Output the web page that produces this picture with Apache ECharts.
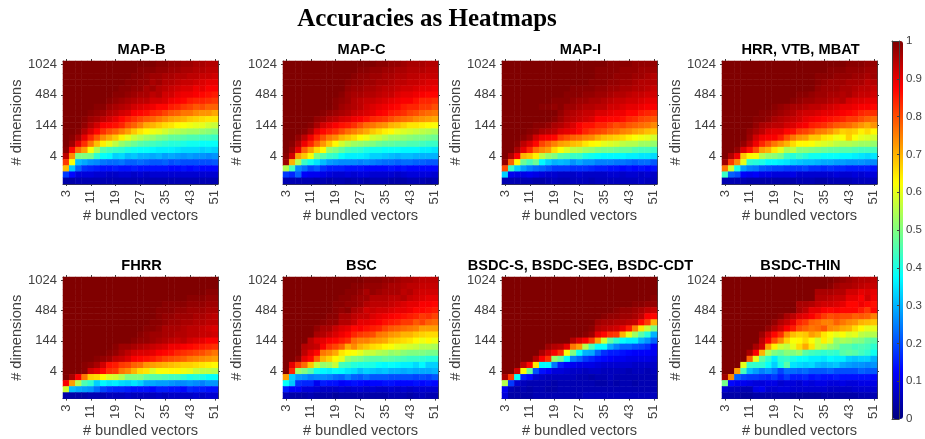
<!DOCTYPE html>
<html><head><meta charset="utf-8"><style>html,body{margin:0;padding:0;background:#fff}#c{width:925px;height:439px}</style>
<script src="https://cdn.jsdelivr.net/npm/echarts@6/dist/echarts.min.js"></script></head><body><div id="c"></div><script>
const xLabels=[3,5,7,9,11,13,15,17,19,21,23,25,27,29,31,33,35,37,39,41,43,45,47,49,51];
const yLabels=['','','','','4','','','','','144','','','','','484','','','','','1024'];
const titles=['MAP-B','MAP-C','MAP-I','HRR, VTB, MBAT','FHRR','BSC','BSDC-S, BSDC-SEG, BSDC-CDT','BSDC-THIN'];
// accuracy in percent, rows listed from the top row (1024) to the bottom row
const mapB=[
[100,100,100,100,100,100,100,100,100,100,100,100,100,100,100,99,99,98,98,97,97,96,96,95,95],
[100,100,100,100,100,100,100,100,100,100,100,100,99,99,99,98,98,97,97,96,96,95,95,94,94],
[100,100,100,100,100,100,100,100,100,100,100,99,99,98,97,97,96,96,95,95,94,94,93,93,92],
[100,100,100,100,100,100,100,100,100,100,99,99,98,98,96,97,95,95,94,93,93,92,91,90,90],
[100,100,100,100,100,100,100,100,100,99,99,98,98,96,97,95,94,93,92,91,91,89,90,88,88],
[100,100,100,100,100,100,100,100,99,99,98,97,96,96,94,95,92,92,90,89,89,88,87,86,85],
[100,100,100,100,100,100,100,99,98,97,96,95,94,94,92,92,91,89,88,87,85,84,84,83,82],
[100,100,100,100,100,99,99,97,96,95,94,92,91,90,89,87,87,85,84,82,81,79,80,78,78],
[100,100,100,100,99,98,97,95,94,92,91,88,87,86,84,83,81,79,78,76,76,74,73,73,71],
[100,100,100,99,97,96,94,92,90,87,85,83,81,79,78,76,74,72,71,70,68,67,66,65,65],
[100,100,100,98,95,92,88,87,86,84,80,78,75,71,70,68,66,65,63,62,61,60,60,58,57],
[100,100,99,95,91,87,83,80,78,75,72,68,65,63,61,60,58,56,55,54,53,53,52,51,50],
[100,99,96,90,84,79,74,71,68,64,60,57,55,53,52,50,49,47,47,46,45,45,44,44,43],
[100,97,90,83,76,69,64,60,56,52,50,48,46,45,44,43,42,41,41,40,39,39,38,38,38],
[99,87,77,72,62,54,46,44,43,42,40,39,38,38,37,36,36,36,35,34,34,34,33,34,33],
[94,74,50,50,49,42,38,37,33,34,31,32,30,30,29,30,28,29,28,27,28,27,27,26,27],
[82,62,31,29,27,26,24,23,23,24,22,22,23,22,21,21,22,20,21,20,20,20,20,20,21],
[69,32,22,17,16,15,14,14,15,14,14,15,14,14,14,14,14,13,13,14,13,14,13,13,13],
[18,13,9,9,9,8,8,7,7,8,8,7,8,7,8,8,8,8,8,8,8,8,8,8,8],
[4,4,5,5,5,5,5,5,5,5,5,5,5,5,5,5,5,5,5,5,5,5,5,5,5]];
const mapC=[
[100,100,100,100,100,100,100,100,100,100,100,100,100,100,100,99,99,98,98,97,96,96,96,95,95],
[100,100,100,100,100,100,100,100,100,100,100,100,99,99,98,98,97,97,96,96,95,95,95,94,94],
[100,100,100,100,100,100,100,100,100,100,100,99,98,98,97,97,96,96,95,95,94,94,93,93,93],
[100,100,100,100,100,100,100,100,100,100,99,98,98,97,97,96,96,95,94,94,93,93,92,91,91],
[100,100,100,100,100,100,100,100,100,100,98,97,97,96,96,95,94,94,93,92,92,91,90,90,89],
[100,100,100,100,100,100,100,100,100,99,97,96,96,95,95,94,93,93,91,90,90,89,88,87,87],
[100,100,100,100,100,100,100,100,99,98,97,95,94,93,93,92,91,90,89,88,88,86,84,84,83],
[100,100,100,100,100,100,100,100,99,97,96,95,94,92,91,90,89,88,87,85,84,84,82,82,80],
[100,100,100,100,100,100,99,98,97,96,95,93,92,91,90,88,87,85,84,83,81,80,78,77,76],
[100,100,100,100,100,98,97,95,94,92,91,89,88,86,84,83,82,80,78,77,76,74,73,72,71],
[100,100,100,100,99,96,92,90,88,86,85,83,80,77,76,74,73,70,69,67,65,65,64,63,62],
[100,100,100,99,96,90,87,85,83,80,77,75,73,71,68,66,64,63,60,59,58,57,56,55,54],
[100,100,98,94,89,84,80,76,74,70,68,66,63,61,58,57,55,53,53,52,51,50,50,49,48],
[100,99,95,89,84,78,73,68,63,58,55,53,52,51,50,48,47,47,46,46,45,45,44,43,43],
[100,97,90,78,72,66,63,52,50,47,44,43,42,40,39,39,38,38,38,37,37,37,36,36,35],
[99,92,72,68,62,50,46,43,42,38,36,36,36,35,33,33,32,31,30,31,31,30,30,30,30],
[97,70,55,43,39,35,31,28,27,26,26,26,25,26,25,24,23,23,22,23,23,22,22,21,21],
[55,44,26,23,19,21,17,15,15,15,14,14,14,13,13,13,13,14,13,14,13,13,13,13,13],
[18,16,22,12,11,11,10,9,8,8,9,8,9,9,8,8,8,8,7,8,9,9,9,9,8],
[5,5,5,5,5,4,5,4,5,5,4,5,5,4,5,5,5,4,4,4,5,5,5,4,5]];
const mapI=[
[100,100,100,100,100,100,100,100,100,100,100,100,100,100,100,100,100,99,99,99,99,98,98,98,98],
[100,100,100,100,100,100,100,100,100,100,100,100,100,100,100,99,99,99,99,98,98,98,97,97,97],
[100,100,100,100,100,100,100,100,100,100,100,100,100,100,100,99,99,99,98,98,98,97,97,96,95],
[100,100,100,100,100,100,100,100,100,100,100,100,100,100,99,99,99,98,98,97,97,96,95,95,95],
[100,100,100,100,100,100,100,100,100,100,100,99,99,99,99,98,98,97,97,96,96,95,95,94,93],
[100,100,100,100,100,100,100,100,100,100,99,99,99,98,98,97,97,96,95,95,94,93,93,92,92],
[100,100,100,100,100,100,100,100,99,99,99,98,97,97,96,96,95,94,93,93,92,92,91,90,90],
[100,100,100,100,100,100,99,99,98,99,97,97,96,95,95,94,94,92,92,91,90,90,89,88,88],
[100,100,100,100,100,100,100,100,100,98,96,95,94,93,93,91,91,90,89,89,87,87,85,84,83],
[100,100,100,100,100,100,100,100,99,97,95,94,93,92,91,88,88,87,87,86,84,83,81,80,79],
[100,100,100,100,100,99,99,98,96,95,93,91,88,86,86,84,84,82,80,81,79,78,77,76,74],
[100,100,100,100,99,98,96,95,94,91,90,89,87,84,82,81,80,78,77,75,74,72,71,69,68],
[100,100,100,99,97,92,89,88,87,82,80,78,77,75,74,71,69,68,67,66,64,62,61,60,58],
[100,100,99,94,91,87,81,78,75,72,71,69,68,65,63,62,60,59,58,56,55,55,53,53,52],
[100,100,96,90,84,77,74,72,66,62,59,56,55,53,52,50,49,49,48,47,47,45,44,44,43],
[100,95,88,70,68,64,56,52,50,46,45,43,43,40,39,38,37,37,37,37,36,36,35,35,34],
[98,78,63,48,44,48,37,33,30,31,30,27,29,27,27,25,25,25,24,24,23,22,23,23,21],
[80,43,33,28,25,23,22,20,18,18,18,17,17,17,16,15,15,14,14,13,14,13,14,13,14],
[33,11,10,10,11,10,9,8,8,7,7,7,8,7,7,7,7,8,8,7,8,8,7,8,7],
[5,5,5,5,5,4,4,5,6,5,5,6,6,6,5,6,6,6,6,6,6,6,7,6,6]];
const hrr=[
[100,100,100,100,100,100,100,100,100,100,100,100,100,100,100,100,100,100,100,100,99,99,99,98,98],
[100,100,100,100,100,100,100,100,100,100,100,100,100,100,100,100,100,99,99,99,98,98,98,97,97],
[100,100,100,100,100,100,100,100,100,100,100,100,100,100,100,99,99,99,98,98,98,97,97,96,97],
[100,100,100,100,100,100,100,100,100,100,100,100,100,100,100,99,98,97,97,97,96,96,96,94,95],
[100,100,100,100,100,100,100,100,100,100,100,100,100,100,100,98,97,97,97,96,96,95,94,94,93],
[100,100,100,100,100,100,100,100,100,100,100,100,99,99,98,97,97,96,96,95,96,94,93,93,92],
[100,100,100,100,100,100,100,100,100,100,100,99,98,97,97,96,96,95,94,95,92,91,91,90,90],
[100,100,100,100,100,100,100,100,99,98,97,96,96,95,94,94,93,92,91,90,90,89,88,88,87],
[100,100,100,100,100,100,99,99,98,97,96,95,93,92,92,91,90,90,89,88,87,86,84,83,83],
[100,100,100,100,100,99,99,98,96,95,94,93,92,90,89,88,87,86,85,84,82,82,80,78,77],
[100,100,100,100,100,98,96,95,94,94,92,91,89,88,85,84,83,81,79,78,77,75,73,71,73],
[100,100,100,100,98,96,94,91,90,90,87,86,82,81,79,76,75,73,70,67,68,67,64,66,63],
[100,100,100,100,97,92,89,88,88,85,80,76,73,72,68,68,65,64,61,62,67,62,60,59,58],
[100,100,100,98,94,89,84,80,76,73,70,66,63,63,62,60,59,58,56,55,55,54,53,53,52],
[100,100,98,91,86,80,72,70,65,60,54,56,51,51,50,49,48,47,47,46,46,45,44,44,44],
[100,95,89,68,63,62,55,52,51,49,43,41,43,41,39,39,38,38,38,37,37,36,35,34,35],
[97,82,74,60,42,41,40,37,37,36,35,33,32,31,31,30,29,29,28,28,27,27,27,26,26],
[76,58,40,28,25,24,21,20,19,19,18,18,18,19,17,17,16,17,16,16,15,15,15,15,14],
[43,22,20,12,11,12,10,10,9,9,9,10,8,8,8,8,8,8,9,8,8,9,8,9,9],
[5,5,5,5,4,4,4,4,4,4,4,4,5,5,5,4,4,5,5,5,5,6,6,6,6]];
const fhrr=[
[100,100,100,100,100,100,100,100,100,100,100,100,100,100,100,100,100,100,100,100,100,100,100,100,100],
[100,100,100,100,100,100,100,100,100,100,100,100,100,100,100,100,100,100,100,100,100,100,100,100,100],
[100,100,100,100,100,100,100,100,100,100,100,100,100,100,100,100,100,100,100,100,100,100,100,99,99],
[100,100,100,100,100,100,100,100,100,100,100,100,100,100,100,100,100,100,100,100,99,99,99,98,98],
[100,100,100,100,100,100,100,100,100,100,100,100,100,100,100,100,99,99,99,99,98,98,98,97,97],
[100,100,100,100,100,100,100,100,100,100,100,100,100,100,100,99,99,99,98,98,97,97,97,96,96],
[100,100,100,100,100,100,100,100,100,100,100,100,100,100,100,99,98,98,97,97,97,96,96,95,94],
[100,100,100,100,100,100,100,100,100,100,100,100,100,100,99,99,98,97,97,96,96,95,95,94,94],
[100,100,100,100,100,100,100,100,100,100,100,100,100,99,99,98,96,96,96,95,94,94,93,92,91],
[100,100,100,100,100,100,100,100,100,100,100,100,99,98,97,97,96,96,95,95,94,94,93,93,92],
[100,100,100,100,100,100,100,100,100,100,100,99,98,98,97,96,95,94,93,94,92,91,90,88,88],
[100,100,100,100,100,100,100,100,99,97,97,96,95,94,93,92,91,89,89,88,87,86,85,84,83],
[100,100,100,100,100,100,100,99,98,96,94,92,91,91,90,88,87,86,84,83,82,81,80,78,76],
[100,100,100,100,100,99,98,97,94,93,91,88,87,86,85,83,81,80,79,78,76,75,74,73,72],
[100,100,100,99,98,96,92,86,85,82,81,78,77,73,72,71,70,69,68,67,67,66,65,64,63],
[100,100,100,99,92,90,87,83,82,76,74,70,66,65,59,62,62,63,63,61,60,57,56,56,55],
[100,96,88,76,67,66,63,59,58,55,50,50,50,47,46,46,45,44,44,42,40,41,40,38,38],
[88,72,55,45,42,33,37,35,36,34,33,35,33,29,29,28,28,27,26,26,27,26,25,27,27],
[58,31,29,28,27,23,19,17,16,16,15,14,14,14,13,15,15,14,14,13,16,15,15,14,14],
[4,4,4,4,5,5,5,6,6,6,7,6,6,6,6,7,6,7,7,7,7,8,7,8,8]];
const bsc=[
[100,100,100,100,100,100,100,100,100,100,100,100,100,99,99,99,98,98,97,96,96,95,94,94,94],
[100,100,100,100,100,100,100,100,100,100,100,99,99,98,98,98,97,96,96,95,94,94,93,93,93],
[100,100,100,100,100,100,100,100,100,100,99,99,98,96,98,97,96,96,96,94,95,93,92,92,92],
[100,100,100,100,100,100,100,100,100,99,99,98,97,97,95,95,95,94,94,95,93,92,91,90,90],
[100,100,100,100,100,100,100,100,99,99,98,98,97,95,94,94,94,93,92,91,90,90,88,88,87],
[100,100,100,100,100,100,100,100,99,98,99,96,95,92,93,92,92,91,90,90,89,87,87,86,85],
[100,100,100,100,100,100,100,99,99,96,96,94,93,93,91,90,89,88,87,86,85,84,82,83,81],
[100,100,100,100,100,100,99,98,98,95,95,93,90,90,89,88,86,85,84,82,82,79,81,78,77],
[100,100,100,100,100,98,96,96,93,91,90,87,88,86,85,84,81,79,78,77,76,75,72,72,72],
[100,100,100,100,100,96,95,93,91,89,87,84,82,81,80,76,75,73,72,70,70,68,67,66,66],
[100,100,100,100,94,91,90,88,87,85,83,77,75,75,73,72,71,68,67,66,65,63,61,63,61],
[100,100,100,95,94,93,88,83,81,78,71,74,70,68,66,65,63,62,60,59,58,57,55,55,54],
[100,100,100,94,90,87,76,74,71,65,63,62,60,57,57,55,54,52,53,51,50,50,50,49,49],
[100,100,98,90,87,78,70,67,63,60,52,50,49,47,46,46,47,46,45,44,43,43,42,41,41],
[100,90,82,77,68,57,52,53,57,44,43,41,40,40,40,38,37,38,37,36,36,34,37,33,33],
[100,84,53,50,46,39,37,36,38,37,35,34,31,33,32,31,32,30,30,29,30,29,29,29,30],
[72,33,28,27,25,26,26,25,23,22,25,22,21,23,21,21,21,20,20,20,20,19,20,19,21],
[38,32,17,16,16,11,15,14,14,12,13,14,13,12,13,13,14,14,13,13,13,14,13,14,13],
[15,12,12,9,9,8,7,7,7,8,7,8,8,7,8,7,7,8,7,8,7,8,8,8,8],
[5,4,4,4,5,4,4,4,3,4,4,4,4,4,4,4,4,5,5,5,4,5,6,5,5]];
const bsdcS=[
[100,100,100,100,100,100,100,100,100,100,100,100,100,100,100,100,100,100,100,100,100,100,100,100,100],
[100,100,100,100,100,100,100,100,100,100,100,100,100,100,100,100,100,100,100,100,100,100,100,100,100],
[100,100,100,100,100,100,100,100,100,100,100,100,100,100,100,100,100,100,100,100,100,100,100,100,100],
[100,100,100,100,100,100,100,100,100,100,100,100,100,100,100,100,100,100,100,100,100,100,100,100,99],
[100,100,100,100,100,100,100,100,100,100,100,100,100,100,100,100,100,100,100,100,100,99,99,98,98],
[100,100,100,100,100,100,100,100,100,100,100,100,100,100,100,100,100,100,99,98,98,97,96,94,93],
[100,100,100,100,100,100,100,100,100,100,100,100,100,100,100,100,99,98,98,97,97,96,94,88,87],
[100,100,100,100,100,100,100,100,100,100,100,100,100,100,100,97,96,96,95,95,94,93,87,82,70],
[100,100,100,100,100,100,100,100,100,100,100,100,100,100,99,95,94,93,92,90,85,75,65,57,50],
[100,100,100,100,100,100,100,100,100,100,100,100,100,99,97,90,87,83,82,70,60,53,46,41,30],
[100,100,100,100,100,100,100,100,100,100,100,95,91,88,82,72,58,47,42,38,36,36,30,27,22],
[100,100,100,100,100,100,100,97,95,94,90,76,72,55,45,38,38,29,25,22,22,20,19,17,12],
[100,100,100,100,100,100,96,92,88,83,62,50,38,30,29,22,17,15,15,14,13,12,12,12,11],
[100,100,100,100,100,95,88,83,52,48,38,25,22,18,16,14,13,12,11,11,10,10,10,10,9],
[100,100,100,94,87,65,37,37,24,15,12,11,10,10,10,9,8,8,8,8,8,7,7,7,7],
[100,100,92,63,48,20,14,12,9,9,8,7,7,6,7,7,6,6,6,6,5,6,6,5,6],
[96,82,38,15,13,8,7,6,6,6,6,6,5,5,4,5,5,6,5,5,5,5,5,5,5],
[55,18,8,6,5,5,5,5,4,5,5,5,5,5,5,4,4,5,4,5,5,4,5,5,5],
[11,5,4,5,4,5,5,4,4,5,5,5,5,5,5,5,5,5,5,5,5,5,5,5,5],
[9,4,4,4,4,5,5,5,5,5,5,5,5,6,6,6,6,6,6,6,6,6,6,6,6]];
const bsdcThin=[
[100,100,100,100,100,100,100,100,100,100,100,100,100,100,100,100,100,100,99,98,97,96,95,95,94],
[100,100,100,100,100,100,100,100,100,100,100,100,100,100,100,100,100,99,97,96,96,95,94,93,93],
[100,100,100,100,100,100,100,100,100,100,100,100,100,100,100,96,96,96,95,95,92,92,90,91,90],
[100,100,100,100,100,100,100,100,100,100,100,100,100,100,100,95,95,94,93,93,90,90,88,92,89],
[100,100,100,100,100,100,100,100,100,100,100,100,96,96,95,93,92,92,91,90,87,87,89,87,86],
[100,100,100,100,100,100,100,100,100,100,100,100,96,94,90,90,88,87,88,87,87,87,85,82,87],
[100,100,100,100,100,100,100,100,100,99,96,94,91,90,88,85,82,80,81,80,80,78,79,78,75],
[100,100,100,100,100,100,100,100,98,95,93,90,84,82,78,77,75,75,78,76,74,73,70,69,68],
[100,100,100,100,100,100,100,98,95,92,88,85,80,78,76,77,79,74,73,71,70,66,63,60,60],
[100,100,100,100,100,100,97,92,87,83,74,69,67,68,72,70,65,62,60,62,59,60,56,55,55],
[100,100,100,100,100,100,94,88,80,74,67,62,63,66,62,58,64,60,52,54,53,51,50,47,46],
[100,100,100,100,100,96,92,72,64,58,56,60,66,71,65,57,55,52,50,46,46,44,45,44,42],
[100,100,100,100,96,88,70,55,50,48,51,50,52,46,44,43,42,43,42,46,47,46,44,42,39],
[100,100,100,100,78,60,47,42,36,42,43,40,38,38,36,36,35,37,36,36,33,32,33,33,30],
[100,100,100,60,43,42,42,38,33,40,46,35,34,33,34,31,30,31,32,29,28,27,27,26,27],
[100,100,72,44,31,28,25,27,24,19,23,23,22,23,21,21,21,22,20,20,20,20,22,21,21],
[97,74,22,19,18,18,17,16,18,15,18,15,15,16,14,15,14,14,15,14,14,14,14,14,13],
[49,13,11,11,10,9,9,10,10,8,9,9,8,10,9,10,10,9,9,10,9,9,10,10,10],
[8,6,6,5,5,10,11,8,8,9,9,8,8,8,8,8,8,7,7,7,7,8,8,8,8],
[4,4,4,3,3,4,4,4,4,4,4,3,3,3,3,3,4,4,4,4,4,4,5,5,5]];
const matrices=[mapB,mapC,mapI,hrr,fhrr,bsc,bsdcS,bsdcThin];
const jet=['#000080','#0000ff','#0080ff','#00ffff','#80ff80','#ffff00','#ff8000','#ff0000','#800000'];
const tc='#404040',lefts=[63,283,502,722],tops=[61,277],W=155,H=123;
const every5=(i)=>i%5===4;
const grid=[],xAxis=[],yAxis=[],series=[],title=[{text:'Accuracies as Heatmaps',left:427,top:20,padding:0,textAlign:'center',textVerticalAlign:'middle',textStyle:{fontFamily:'Liberation Serif',fontWeight:'bold',fontSize:25,color:'#000'}}];
const line={show:true,onZero:false,lineStyle:{color:tc,width:1}};
const tick={show:true,alignWithLabel:true,length:2,inside:false,lineStyle:{color:tc}};
matrices.forEach((m,k)=>{
  const L=lefts[k%4],T=tops[k>>2];
  grid.push({left:L,top:T,width:W,height:H,containLabel:false});
  const g=k;
  title.push({text:titles[k],left:L+W/2+1,top:k<4?50:266,padding:0,textAlign:'center',textVerticalAlign:'middle',textStyle:{fontFamily:'Liberation Sans',fontWeight:'bold',fontSize:14.6,color:'#000'}});
  xAxis.push({type:'category',gridIndex:g,position:'bottom',data:xLabels,name:'# bundled vectors',nameLocation:'middle',nameGap:24,nameTextStyle:{fontFamily:'Liberation Sans',fontSize:14.6,color:tc},axisLine:line,axisTick:{...tick,interval:3},axisLabel:{interval:3,rotate:90,margin:6,fontFamily:'Liberation Sans',fontSize:13,color:tc},splitLine:{show:false}});
  xAxis.push({type:'category',gridIndex:g,position:'top',data:xLabels,axisLine:line,axisTick:{...tick,interval:3},axisLabel:{show:false},splitLine:{show:false}});
  yAxis.push({type:'category',gridIndex:g,position:'left',data:yLabels,name:'# dimensions',nameLocation:'middle',nameGap:37,nameTextStyle:{fontFamily:'Liberation Sans',fontSize:14.6,color:tc},axisLine:line,axisTick:{...tick,interval:every5},axisLabel:{interval:every5,margin:6,fontFamily:'Liberation Sans',fontSize:13,color:tc},splitLine:{show:false}});
  yAxis.push({type:'category',gridIndex:g,position:'right',data:yLabels,axisLine:line,axisTick:{...tick,interval:every5},axisLabel:{show:false},splitLine:{show:false}});
  const data=[];
  m.forEach((row,r)=>row.forEach((v,c)=>data.push([c,19-r,v/100])));
  series.push({type:'heatmap',xAxisIndex:2*k,yAxisIndex:2*k,data,progressive:0,itemStyle:{borderWidth:0},emphasis:{disabled:true}});
});
// colour bar axis
grid.push({left:892,top:41,width:11,height:378});
xAxis.push({type:'value',gridIndex:8,min:0,max:1,position:'top',axisLine:{show:true,onZero:false,lineStyle:{color:tc}},axisTick:{show:false},axisLabel:{show:false},splitLine:{show:false},z:9});
xAxis.push({type:'value',gridIndex:8,min:0,max:1,position:'bottom',axisLine:{show:true,onZero:false,lineStyle:{color:tc}},axisTick:{show:false},axisLabel:{show:false},splitLine:{show:false},z:9});
yAxis.push({type:'value',gridIndex:8,min:0,max:1,interval:0.1,position:'right',axisLine:{show:true,onZero:false,lineStyle:{color:tc}},axisTick:{show:true,inside:true,length:2,lineStyle:{color:tc}},axisLabel:{margin:7,fontFamily:'Liberation Sans',fontSize:11.5,color:tc},splitLine:{show:false},z:9});
yAxis.push({type:'value',gridIndex:8,min:0,max:1,interval:0.1,position:'left',axisLine:{show:true,onZero:false,lineStyle:{color:tc}},axisTick:{show:false},axisLabel:{show:false},splitLine:{show:false},z:9});
const chart=echarts.init(document.getElementById('c'),null,{renderer:'canvas'});
chart.setOption({animation:false,backgroundColor:'#fff',title,grid,xAxis,yAxis,series,
  visualMap:[{type:'continuous',seriesIndex:[0,1,2,3,4,5,6,7],min:0,max:1,left:892,top:41,itemWidth:11,itemHeight:378,text:['',''],showLabel:false,calculable:false,hoverLink:false,realtime:false,padding:0,inRange:{color:jet}}]});
</script></body></html>
